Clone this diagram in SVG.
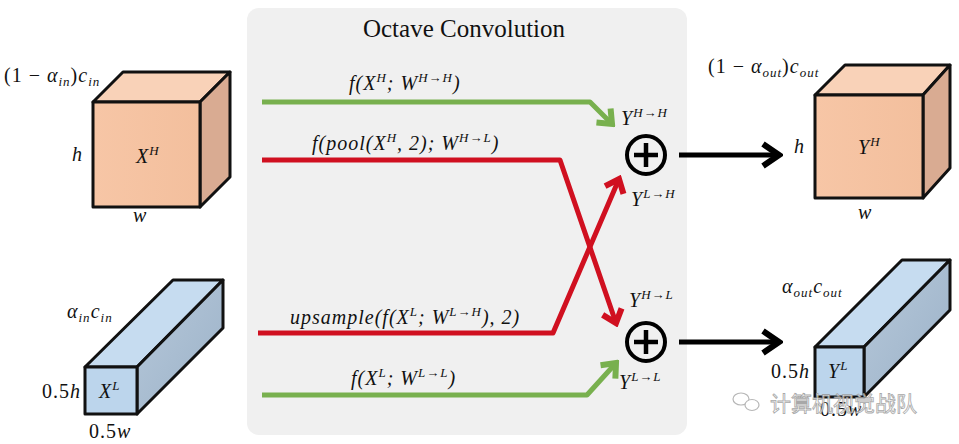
<svg xmlns="http://www.w3.org/2000/svg" width="959" height="444" viewBox="0 0 959 444">
<style>
.m{font-family:"Liberation Serif",serif;font-style:italic;font-size:20px;fill:#111;letter-spacing:1px}
.n{font-family:"Liberation Serif",serif;font-size:20px;fill:#111;letter-spacing:1px}
.s{font-size:13px}
.e{stroke:#111;stroke-width:3;stroke-linejoin:round}
.g{fill:none;stroke:#78b04e;stroke-width:5;stroke-linejoin:round}
.r{fill:none;stroke:#d01020;stroke-width:5;stroke-linejoin:round}
.k{fill:none;stroke:#000;stroke-width:5}
.title{font-family:"Liberation Serif",serif;font-size:25px;fill:#111}
</style>
<defs>
<marker id="ag" markerUnits="userSpaceOnUse" viewBox="-16 -13 20 26" markerWidth="20" markerHeight="26" refX="0" refY="0" orient="auto"><path d="M-12,-10 L0,0 L-12,10" fill="none" stroke="#78b04e" stroke-width="6"/></marker>
<marker id="ar" markerUnits="userSpaceOnUse" viewBox="-16 -13 20 26" markerWidth="20" markerHeight="26" refX="0" refY="0" orient="auto"><path d="M-12,-10 L0,0 L-12,10" fill="none" stroke="#d01020" stroke-width="6"/></marker>
<marker id="ak" markerUnits="userSpaceOnUse" viewBox="-20 -14 24 28" markerWidth="24" markerHeight="28" refX="0" refY="0" orient="auto"><path d="M-16,-11 L0,0 L-16,11" fill="none" stroke="#000" stroke-width="6"/></marker>
<linearGradient id="og" x1="0" y1="0" x2="1" y2="0"><stop offset="0" stop-color="#f7c6a6"/><stop offset="1" stop-color="#f3bf9d"/></linearGradient>
<linearGradient id="bs" x1="0" y1="0" x2="1" y2="1"><stop offset="0" stop-color="#b6c8da"/><stop offset="1" stop-color="#9cb2c8"/></linearGradient>
</defs>
<rect id="panel" x="247" y="8" width="440" height="427" rx="12" fill="#f0f0f0"/>
<text class="title" x="464" y="37" text-anchor="middle">Octave Convolution</text>

<g id="XH">
<polygon class="e" points="93,102 123,72 230,72 200,102" fill="#f9d2b8"/>
<polygon class="e" points="200,102 230,72 230,177 200,207" fill="#d9ab92"/>
<rect class="e" x="93" y="102" width="107" height="105" fill="url(#og)"/>
<text class="m" x="136" y="163">X<tspan class="s" dy="-8">H</tspan></text>
<text class="n" x="4" y="82">(1 − <tspan font-style="italic">α</tspan><tspan class="s" font-style="italic" dy="4">in</tspan><tspan dy="-4">)</tspan><tspan font-style="italic">c</tspan><tspan class="s" font-style="italic" dy="4">in</tspan></text>
<text class="m" x="72" y="161">h</text>
<text class="m" x="133" y="222">w</text>
</g>

<g id="XL">
<polygon class="e" points="85,367 173,280 223,280 137,367" fill="#c6dcf0"/>
<polygon class="e" points="137,367 223,280 223,328 137,414" fill="url(#bs)"/>
<rect class="e" x="85" y="367" width="52" height="47" fill="#bcd5ec"/>
<text class="m" x="99" y="398">X<tspan class="s" dy="-8">L</tspan></text>
<text class="m" x="67" y="318">α<tspan class="s" dy="4">in</tspan><tspan dy="-4">c</tspan><tspan class="s" dy="4">in</tspan></text>
<text class="n" x="42" y="398">0.5<tspan font-style="italic">h</tspan></text>
<text class="n" x="89" y="438">0.5<tspan font-style="italic">w</tspan></text>
</g>

<g id="YH">
<polygon class="e" points="815,95 845,65 950,65 923,95" fill="#f9d2b8"/>
<polygon class="e" points="923,95 950,65 950,168 923,198" fill="#d9ab92"/>
<rect class="e" x="815" y="95" width="108" height="103" fill="url(#og)"/>
<text class="m" x="858" y="154">Y<tspan class="s" dy="-8">H</tspan></text>
<text class="n" x="708" y="73">(1 − <tspan font-style="italic">α</tspan><tspan class="s" font-style="italic" dy="4">out</tspan><tspan dy="-4">)</tspan><tspan font-style="italic">c</tspan><tspan class="s" font-style="italic" dy="4">out</tspan></text>
<text class="m" x="794" y="153">h</text>
<text class="m" x="858" y="219">w</text>
</g>

<g id="YL">
<polygon class="e" points="815,347 902,260 950,260 864,347" fill="#c6dcf0"/>
<polygon class="e" points="864,347 950,260 950,310 864,397" fill="url(#bs)"/>
<rect class="e" x="815" y="347" width="49" height="50" fill="#bcd5ec"/>
<text class="m" x="828" y="378">Y<tspan class="s" dy="-8">L</tspan></text>
<text class="m" x="782" y="293">α<tspan class="s" dy="4">out</tspan><tspan dy="-4">c</tspan><tspan class="s" dy="4">out</tspan></text>
<text class="n" x="771" y="378">0.5<tspan font-style="italic">h</tspan></text>
<text class="n" x="820" y="416">0.5<tspan font-style="italic">w</tspan></text>
</g>

<g id="sumH">
<circle cx="646" cy="155" r="19" fill="none" stroke="#000" stroke-width="4"/>
<path d="M634,155 H658 M646,143 V167" stroke="#000" stroke-width="4.5"/>
<text class="m" x="621" y="125">Y<tspan class="s" dy="-8">H→H</tspan></text>
<text class="m" x="631" y="206">Y<tspan class="s" dy="-8">L→H</tspan></text>
</g>
<g id="sumL">
<circle cx="646" cy="342" r="19" fill="none" stroke="#000" stroke-width="4"/>
<path d="M634,342 H658 M646,330 V354" stroke="#000" stroke-width="4.5"/>
<text class="m" x="629" y="307">Y<tspan class="s" dy="-8">H→L</tspan></text>
<text class="m" x="619" y="389">Y<tspan class="s" dy="-8">L→L</tspan></text>
</g>

<g id="connectors">
<polyline class="g" points="262,102 590,102 612,124" marker-end="url(#ag)"/>
<polyline class="r" points="262,160 560,160 616,323" marker-end="url(#ar)"/>
<polyline class="r" points="258,333 553,333 619,179" marker-end="url(#ar)"/>
<polyline class="g" points="262,395 587,395 616,363" marker-end="url(#ag)"/>
<line class="k" x1="679" y1="155" x2="779" y2="155" marker-end="url(#ak)"/>
<line class="k" x1="679" y1="342" x2="779" y2="342" marker-end="url(#ak)"/>
<text class="m" x="349" y="90">f(X<tspan class="s" dy="-8">H</tspan><tspan dy="8">; W</tspan><tspan class="s" dy="-8">H→H</tspan><tspan dy="8">)</tspan></text>
<text class="m" x="312" y="150">f(pool(X<tspan class="s" dy="-8">H</tspan><tspan dy="8">, 2); W</tspan><tspan class="s" dy="-8">H→L</tspan><tspan dy="8">)</tspan></text>
<text class="m" x="290" y="324">upsample(f(X<tspan class="s" dy="-8">L</tspan><tspan dy="8">; W</tspan><tspan class="s" dy="-8">L→H</tspan><tspan dy="8">), 2)</tspan></text>
<text class="m" x="351" y="385">f(X<tspan class="s" dy="-8">L</tspan><tspan dy="8">; W</tspan><tspan class="s" dy="-8">L→L</tspan><tspan dy="8">)</tspan></text>
</g>

<g id="watermark" opacity="0.85">
<ellipse cx="741" cy="399" rx="8" ry="6" fill="#fff" stroke="#aaa" stroke-width="1.2"/>
<ellipse cx="752" cy="405" rx="7" ry="5.5" fill="#fff" stroke="#aaa" stroke-width="1.2"/>
<text x="770" y="411" font-family="'Noto Sans CJK SC',sans-serif" font-size="21" fill="#fff" stroke="#999" stroke-width="0.8">计算机视觉战队</text>
</g>
</svg>
